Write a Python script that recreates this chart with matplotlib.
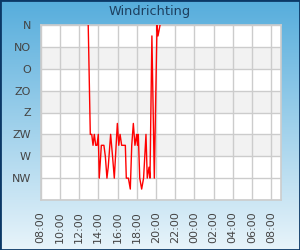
import numpy as np
import matplotlib
matplotlib.use("Agg")
import matplotlib.pyplot as plt
from matplotlib.patches import Rectangle

# wind direction readings (time of day, degrees; 0 = N)
times = ["12:57", "13:10", "13:19", "13:27", "13:35", "13:44", "13:52", "14:00",
         "14:06", "14:19", "14:35", "14:44", "14:54", "15:02", "15:17", "15:29",
         "15:40", "15:59", "16:08", "16:16", "16:26", "16:49", "16:55", "17:08",
         "17:20", "17:29", "17:39", "17:49", "18:00", "18:05", "18:10", "18:19",
         "18:31", "18:43", "18:58", "19:06", "19:17", "19:23", "19:35", "19:50",
         "20:07", "20:13", "20:26"]
direction = [0, 225, 225, 247.5, 225, 247.5, 247.5, 225,
             315, 247.5, 247.5, 270, 315, 292.5, 225, 270,
             315, 202.5, 247.5, 225, 247.5, 247.5, 315, 315,
             337.5, 247.5, 202.5, 247.5, 225, 247.5, 225, 315,
             337.5, 315, 225, 315, 292.5, 315, 22.5, 315,
             0, 22.5, 0]

compass = ["N", "NO", "O", "ZO", "Z", "ZW", "W", "NW"]
hour_ticks = list(range(8, 33, 2))


def to_hours(s):
    h, m = s.split(":")
    return int(h) + int(m) / 60.0


x = np.array([to_hours(t) for t in times])
y = np.array(direction)

fig = plt.figure(figsize=(3, 2.5), dpi=100)

# gradient backdrop
bg = fig.add_axes([0, 0, 1, 1], zorder=0)
grad = np.linspace(0, 1, 256)[:, None]
top_c = np.array([0x56, 0xad, 0xdc]) / 255
bot_c = np.array([0xe8, 0xf4, 0xfa]) / 255
img = top_c[None, None, :] * (1 - grad[:, :, None]) + bot_c[None, None, :] * grad[:, :, None]
bg.imshow(img, aspect="auto", extent=[0, 1, 0, 1])
bg.set_axis_off()
bg.add_patch(Rectangle((0, 0), 1, 1, transform=bg.transAxes, fill=False,
                       edgecolor="#0b3866", linewidth=2.0))

ax = fig.add_axes([40.7 / 300, 1 - 200 / 250, 240 / 300, 175 / 250], zorder=1)
ax.set_facecolor("white")

# alternating bands
for lo in (45, 135, 225):
    ax.axhspan(lo, lo + 45, color="#f2f2f2", zorder=0, lw=0)

ax.plot(x, y, color="#ff0000", lw=1.0, zorder=3, clip_on=True)

ax.set_xlim(8, 33)
ax.set_ylim(360, 0)
ax.set_yticks(range(0, 361, 45))
ax.set_yticklabels(compass + [""])
ax.set_xticks(hour_ticks)
ax.set_xticklabels(["%02d:00" % (h % 24) for h in hour_ticks], rotation=90)

ax.grid(True, color="#cccccc", lw=1.0, zorder=1)
ax.set_axisbelow(True)
ax.tick_params(length=0, labelsize=8, colors="#444444")
ax.tick_params(axis="y", pad=7)
ax.tick_params(axis="x", pad=8)
for sp in ax.spines.values():
    sp.set_color("#cccccc")
    sp.set_linewidth(1.2)

fig.text(0.5, 1 - 11 / 250, "Windrichting", ha="center", va="center",
         fontsize=9.3, color="#1d3f5f")

fig.savefig("out.png", dpi=100)
